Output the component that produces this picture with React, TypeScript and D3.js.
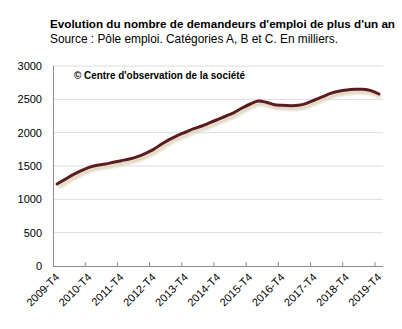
import React from "react";
import * as d3 from "d3";

const title = "Evolution du nombre de demandeurs d'emploi de plus d'un an";
const subtitle = "Source : Pôle emploi. Catégories A, B et C. En milliers.";
const credit = "© Centre d'observation de la société";

const years = [2009, 2010, 2011, 2012, 2013, 2014, 2015, 2016, 2017, 2018, 2019];
// quarterly values from 2009-T4 to 2019-T4 (41 quarters), thousands
const values = [
  1230, 1300, 1370, 1430, 1480, 1510, 1530, 1555, 1580, 1605,
  1640, 1690, 1750, 1830, 1900, 1960, 2010, 2060, 2100, 2150,
  2200, 2250, 2300, 2370, 2430, 2475, 2455, 2420, 2410, 2405,
  2410, 2440, 2490, 2540, 2590, 2620, 2640, 2650, 2650, 2630,
  2580,
];
const yTicks = [0, 500, 1000, 1500, 2000, 2500, 3000];

const W = 402;
const H = 329;
const left = 53;
const right = 383;
const top = 66;
const bottom = 266;

export default function App() {
  const idx = values.map((_, i) => i);
  const x = d3.scaleBand<number>().domain(idx).range([left, right]);
  const cx = (i: number) => (x(i) as number) + x.bandwidth() / 2;
  const y = d3.scaleLinear().domain([0, 3000]).range([bottom, top]);
  const line = d3
    .line<number>()
    .x((_, i) => cx(i))
    .y((d) => y(d))
    .curve(d3.curveCatmullRom.alpha(0.5));
  const path = line(values) || "";
  const font = "'Liberation Sans', Arial, sans-serif";

  return (
    <svg
      width={W}
      height={H}
      style={{ position: "absolute", left: 0, top: 0, background: "#fff" }}
      fontFamily={font}
    >
      <defs>
        <filter id="blur" x="-10%" y="-10%" width="120%" height="120%">
          <feGaussianBlur stdDeviation="1" />
        </filter>
      </defs>
      <text x={50} y={28} fontSize={11.5} fontWeight="bold" fill="#000" textLength={345} lengthAdjust="spacingAndGlyphs">
        {title}
      </text>
      <text x={50} y={43} fontSize={12} fill="#000" textLength={288} lengthAdjust="spacingAndGlyphs">
        {subtitle}
      </text>
      {yTicks.map((t) => (
        <g key={t}>
          {t > 0 && (
            <line x1={left} x2={right} y1={y(t)} y2={y(t)} stroke="#d9dde3" strokeWidth={1} />
          )}
          <text x={42} y={y(t) + 4} fontSize={11} textAnchor="end" fill="#000">
            {t}
          </text>
        </g>
      ))}
      <line x1={left + 0.5} x2={left + 0.5} y1={top} y2={bottom} stroke="#8c8c8c" />
      <line x1={left} x2={right} y1={bottom + 0.5} y2={bottom + 0.5} stroke="#8c8c8c" />
      {years.map((yr, k) => {
        const i = k * 4;
        const tx = x(i) as number;
        return (
          <g key={yr}>
            {k > 0 && (
              <line x1={tx} x2={tx} y1={bottom - 4} y2={bottom} stroke="#8c8c8c" />
            )}
            <text
              transform={`translate(${cx(i) + 3},${bottom + 12}) rotate(-45)`}
              textAnchor="end"
              fontSize={11}
              fill="#000"
            >
              {`${yr}-T4`}
            </text>
          </g>
        );
      })}
      <text x={74} y={79} fontSize={10} fontWeight="bold" fill="#000" textLength={171} lengthAdjust="spacingAndGlyphs">
        {credit}
      </text>
      <path
        d={path}
        fill="none"
        stroke="#e3d6c0"
        strokeWidth={4}
        transform="translate(1.5,3)"
        filter="url(#blur)"
      />
      <path d={path} fill="none" stroke="#5a1c20" strokeWidth={3} strokeLinecap="round" />
    </svg>
  );
}
